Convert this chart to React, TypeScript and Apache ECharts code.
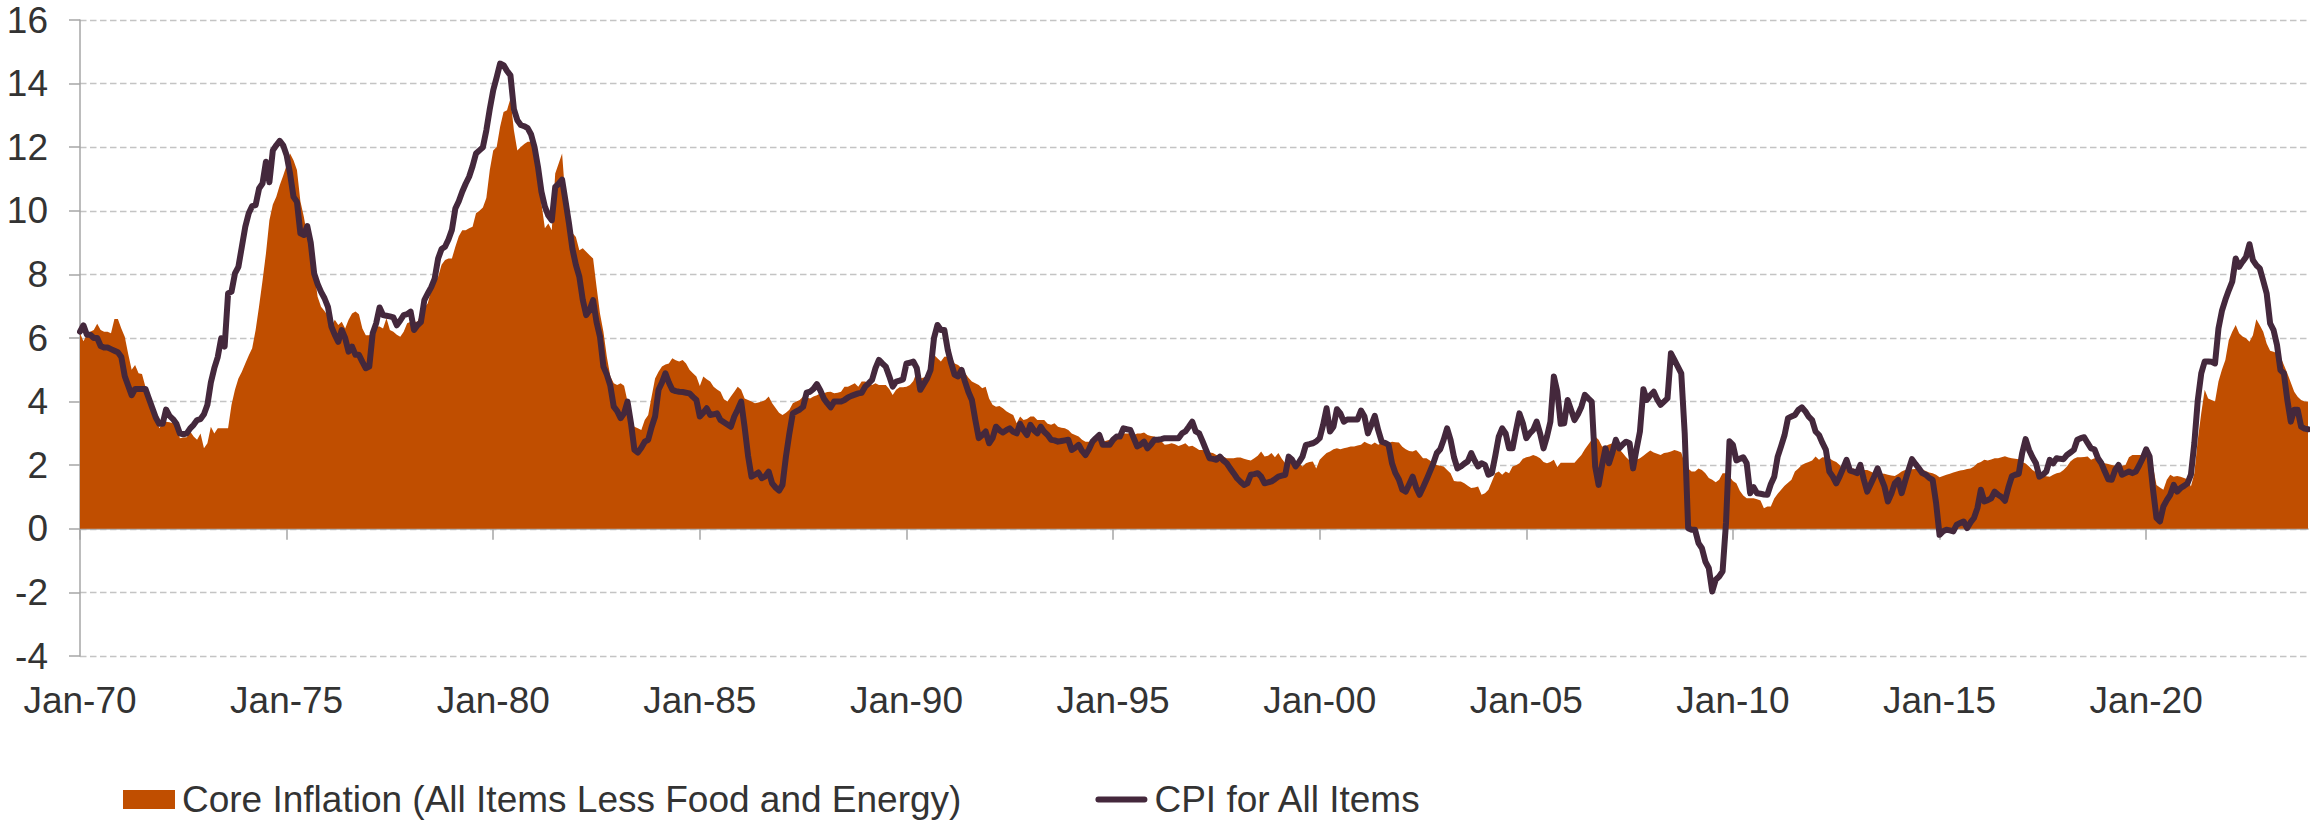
import React, { useEffect, useRef } from "react";
import * as echarts from "echarts";

// ---------- categories & labels ----------
const MONTHS = ["Jan", "Feb", "Mar", "Apr", "May", "Jun", "Jul", "Aug", "Sep", "Oct", "Nov", "Dec"];
const FIRST_YEAR = 1970;
const LAST_YEAR = 2023;
const TICK_LABELS = ["Jan-70", "Jan-75", "Jan-80", "Jan-85", "Jan-90", "Jan-95", "Jan-00", "Jan-05", "Jan-10", "Jan-15", "Jan-20"];

const CORE_NAME = "Core Inflation (All Items Less Food and Energy)";
const CPI_NAME = "CPI for All Items";

// ---------- CPI for All Items, YoY %, monthly (one row per year) ----------
const CPI_1970S = [
  6.2, 6.4, 6.1, 6.1, 6.0, 6.0, 5.75, 5.7, 5.7, 5.65, 5.6, 5.55,
  5.4, 4.8, 4.5, 4.2, 4.4, 4.4, 4.4, 4.4, 4.1, 3.8, 3.5, 3.3,
  3.3, 3.75, 3.55, 3.45, 3.3, 3.0, 2.97, 3.0, 3.16, 3.27, 3.42, 3.45,
  3.6, 3.9, 4.6, 5.05, 5.4, 5.99, 5.73, 7.4, 7.46, 8.03, 8.24, 8.87,
  9.5, 9.92, 10.15, 10.18, 10.7, 10.86, 11.54, 10.9, 11.9, 12.06, 12.2, 12.06,
  11.75, 11.17, 10.44, 10.28, 9.29, 9.24, 9.52, 9.0, 8.03, 7.7, 7.45, 7.25,
  6.98, 6.36, 6.1, 5.88, 6.25, 6.0, 5.57, 5.73, 5.47, 5.47, 5.25, 5.05,
  5.1, 6.15, 6.46, 6.96, 6.72, 6.7, 6.68, 6.65, 6.4, 6.55, 6.72, 6.75,
  6.83, 6.25, 6.4, 6.5, 7.19, 7.4, 7.6, 7.87, 8.5, 8.8, 8.87, 9.1,
  9.4, 10.07, 10.3, 10.6, 10.85, 11.07, 11.4, 11.8, 11.9, 12.0, 12.53, 13.2,
];
const CPI_1980S = [
  13.79, 14.2, 14.63, 14.58, 14.4, 14.26, 13.2, 12.85, 12.7, 12.66, 12.6, 12.4,
  12.0, 11.38, 10.6, 10.13, 9.85, 9.7, 10.75, 10.85, 10.98, 10.3, 9.6, 8.8,
  8.3, 7.93, 7.2, 6.72, 6.88, 7.19, 6.5, 6.04, 5.1, 4.85, 4.5, 3.84,
  3.7, 3.48, 3.63, 4.0, 3.32, 2.48, 2.4, 2.55, 2.74, 2.8, 3.2, 3.53,
  4.37, 4.6, 4.89, 4.6, 4.37, 4.33, 4.31, 4.3, 4.28, 4.26, 4.15, 4.05,
  3.53, 3.65, 3.79, 3.58, 3.6, 3.63, 3.42, 3.35, 3.28, 3.21, 3.53, 3.75,
  4.0, 3.2, 2.3, 1.64, 1.7, 1.77, 1.59, 1.65, 1.8, 1.43, 1.3, 1.2,
  1.38, 2.27, 3.0, 3.63, 3.69, 3.75, 3.84, 4.28, 4.31, 4.4, 4.55, 4.35,
  4.1, 3.95, 3.82, 4.0, 4.0, 4.0, 4.05, 4.13, 4.18, 4.22, 4.26, 4.28,
  4.47, 4.57, 4.68, 5.05, 5.31, 5.2, 5.1, 4.8, 4.47, 4.63, 4.66, 4.7,
];
const CPI_1990S = [
  5.2, 5.22, 5.26, 5.05, 4.37, 4.55, 4.73, 5.0, 6.0, 6.41, 6.25, 6.25,
  5.62, 5.2, 4.84, 4.79, 5.0, 4.63, 4.3, 4.05, 3.42, 2.85, 2.95, 3.06,
  2.69, 2.85, 3.21, 3.1, 3.03, 3.1, 3.16, 3.05, 3.0, 3.3, 3.1, 2.95,
  3.27, 3.1, 3.0, 3.21, 3.05, 2.95, 2.8, 2.78, 2.74, 2.76, 2.78, 2.8,
  2.48, 2.55, 2.64, 2.45, 2.32, 2.5, 2.74, 2.85, 2.95, 2.64, 2.64, 2.64,
  2.8, 2.9, 2.9, 3.16, 3.13, 3.11, 2.85, 2.59, 2.65, 2.74, 2.53, 2.65,
  2.8, 2.8, 2.82, 2.85, 2.85, 2.85, 2.85, 2.85, 3.0, 3.06, 3.21, 3.37,
  3.06, 3.0, 2.75, 2.48, 2.22, 2.2, 2.17, 2.27, 2.15, 2.06, 1.9, 1.75,
  1.59, 1.48, 1.38, 1.43, 1.7, 1.72, 1.75, 1.64, 1.43, 1.46, 1.49, 1.56,
  1.64, 1.67, 1.7, 2.27, 2.17, 1.96, 2.1, 2.27, 2.64, 2.66, 2.69, 2.75,
];
const CPI_2000S = [
  2.85, 3.27, 3.79, 3.06, 3.21, 3.76, 3.63, 3.37, 3.44, 3.44, 3.44, 3.44,
  3.72, 3.53, 3.0, 3.27, 3.55, 3.1, 2.74, 2.7, 2.64, 2.06, 1.75, 1.55,
  1.23, 1.17, 1.4, 1.64, 1.3, 1.07, 1.3, 1.54, 1.8, 2.06, 2.38, 2.5,
  2.8, 3.16, 2.8, 2.25, 1.9, 1.96, 2.05, 2.12, 2.38, 2.15, 1.96, 2.06,
  2.01, 1.7, 1.75, 2.3, 2.9, 3.16, 3.0, 2.53, 2.53, 3.1, 3.63, 3.32,
  2.85, 3.0, 3.11, 3.37, 3.0, 2.53, 2.9, 3.37, 4.79, 4.31, 3.3, 3.32,
  4.05, 3.74, 3.42, 3.6, 3.84, 4.21, 4.1, 4.0, 1.96, 1.38, 2.0, 2.53,
  2.06, 2.4, 2.8, 2.53, 2.65, 2.74, 2.69, 1.9, 2.5, 3.06, 4.39, 4.05,
  4.2, 4.31, 4.07, 3.9, 4.0, 4.1, 5.52, 5.31, 5.1, 4.89, 3.0, 0.02,
  -0.03, -0.03, -0.45, -0.61, -1.03, -1.24, -1.97, -1.6, -1.5, -1.34, 0.2, 2.75,
];
const CPI_2010S = [
  2.64, 2.15, 2.2, 2.25, 2.06, 1.12, 1.31, 1.12, 1.1, 1.08, 1.07, 1.4,
  1.64, 2.27, 2.6, 2.95, 3.48, 3.53, 3.58, 3.74, 3.82, 3.7, 3.53, 3.42,
  3.06, 2.95, 2.7, 2.48, 1.8, 1.64, 1.43, 1.65, 1.9, 2.17, 1.83, 1.8,
  1.75, 2.01, 1.55, 1.17, 1.4, 1.64, 1.9, 1.6, 1.33, 0.86, 1.1, 1.43,
  1.54, 1.12, 1.5, 1.85, 2.19, 2.04, 1.9, 1.75, 1.7, 1.6, 1.54, 0.81,
  -0.19, -0.08, -0.03, -0.05, -0.08, 0.13, 0.18, 0.23, 0.02, 0.2, 0.34, 0.65,
  1.23, 0.86, 0.9, 0.96, 1.17, 1.07, 1.0, 0.88, 1.3, 1.65, 1.7, 1.73,
  2.38, 2.82, 2.48, 2.25, 2.06, 1.64, 1.7, 1.8, 2.17, 2.06, 2.22, 2.2,
  2.19, 2.32, 2.4, 2.48, 2.8, 2.85, 2.88, 2.7, 2.53, 2.5, 2.22, 2.06,
  1.8, 1.56, 1.54, 1.85, 2.01, 1.7, 1.75, 1.8, 1.75, 1.8, 2.0, 2.22,
];
const CPI_2020S = [
  2.5, 2.27, 1.23, 0.34, 0.23, 0.7, 0.9, 1.07, 1.38, 1.17, 1.28, 1.35,
  1.43, 1.7, 2.7, 4.05, 4.89, 5.26, 5.26, 5.25, 5.2, 6.3, 6.85, 7.2,
  7.5, 7.77, 8.5, 8.24, 8.4, 8.55, 8.95, 8.45, 8.29, 8.19, 7.8, 7.4,
  6.46, 6.25, 5.78, 4.99, 4.89, 4.05, 3.37, 3.74, 3.74, 3.21, 3.15, 3.13,
];

// ---------- Core inflation (less food & energy), YoY %, monthly ----------
const CORE_1970S = [
  6.15, 5.9, 6.1, 6.2, 6.25, 6.45, 6.25, 6.2, 6.2, 6.15, 6.6, 6.6,
  6.3, 6.04, 5.5, 5.0, 5.15, 4.89, 4.87, 4.47, 4.26, 4.0, 3.6, 3.16,
  3.3, 3.37, 3.35, 3.32, 3.27, 2.85, 2.87, 2.88, 3.06, 2.9, 2.8, 3.0,
  2.53, 2.69, 3.21, 3.0, 3.16, 3.16, 3.16, 3.16, 3.9, 4.37, 4.73, 4.94,
  5.2, 5.45, 5.68, 6.25, 7.0, 7.8, 8.66, 9.7, 10.2, 10.44, 10.8, 11.1,
  11.43, 11.8, 11.59, 11.28, 10.3, 9.81, 9.2, 8.87, 8.14, 7.3, 6.98, 6.85,
  6.7, 6.36, 6.57, 6.41, 6.51, 6.3, 6.57, 6.77, 6.83, 6.75, 6.3, 6.09,
  6.09, 6.2, 6.36, 6.36, 6.3, 6.62, 6.25, 6.2, 6.1, 6.04, 6.2, 6.46,
  6.51, 6.51, 6.51, 6.77, 6.95, 7.09, 7.51, 7.75, 7.93, 8.3, 8.45, 8.5,
  8.5, 8.87, 9.2, 9.39, 9.39, 9.45, 9.5, 9.92, 10.0, 10.1, 10.4, 11.28,
];
const CORE_1980S = [
  11.9, 12.01, 12.64, 13.11, 13.16, 13.53, 12.53, 11.9, 12.01, 12.1, 12.17, 12.17,
  11.8, 11.07, 10.23, 9.45, 9.6, 9.39, 11.17, 11.49, 11.8, 10.33, 9.7, 9.3,
  9.18, 8.76, 8.82, 8.71, 8.6, 8.5, 7.61, 6.77, 6.2, 5.4, 4.8, 4.58,
  4.52, 4.58, 4.5, 4.0, 3.53, 3.21, 3.16, 3.11, 3.42, 3.58, 4.16, 4.73,
  4.94, 5.1, 5.17, 5.2, 5.36, 5.3, 5.26, 5.31, 5.2, 5.0, 4.89, 4.79,
  4.49, 4.79, 4.7, 4.63, 4.47, 4.38, 4.31, 4.07, 4.0, 4.16, 4.31, 4.47,
  4.37, 4.1, 4.05, 4.0, 3.95, 3.97, 4.0, 4.05, 4.16, 3.95, 3.8, 3.65,
  3.58, 3.65, 3.74, 3.95, 4.0, 4.05, 4.16, 4.13, 4.1, 4.16, 4.2, 4.26,
  4.26, 4.3, 4.31, 4.26, 4.28, 4.31, 4.47, 4.47, 4.52, 4.58, 4.47, 4.63,
  4.63, 4.58, 4.52, 4.58, 4.52, 4.52, 4.52, 4.4, 4.21, 4.37, 4.45, 4.45,
];
const CORE_1990S = [
  4.47, 4.52, 4.65, 4.94, 4.73, 4.76, 4.79, 5.1, 5.47, 5.36, 5.26, 5.41,
  5.42, 5.43, 5.2, 5.15, 5.05, 4.9, 4.75, 4.63, 4.58, 4.52, 4.42, 4.47,
  4.1, 3.9, 3.84, 3.86, 3.79, 3.7, 3.63, 3.58, 3.32, 3.53, 3.42, 3.45,
  3.53, 3.53, 3.42, 3.42, 3.42, 3.3, 3.27, 3.32, 3.21, 3.18, 3.16, 3.11,
  3.0, 2.95, 2.9, 2.8, 2.74, 2.74, 2.77, 2.8, 2.9, 2.74, 2.77, 2.8,
  2.9, 2.92, 2.95, 3.0, 3.0, 3.0, 2.95, 3.0, 3.0, 3.03, 2.95, 2.92,
  2.9, 2.85, 2.75, 2.64, 2.66, 2.69, 2.66, 2.6, 2.64, 2.69, 2.59, 2.61,
  2.55, 2.48, 2.48, 2.43, 2.4, 2.38, 2.32, 2.3, 2.27, 2.22, 2.22, 2.22,
  2.24, 2.24, 2.2, 2.17, 2.15, 2.22, 2.3, 2.43, 2.27, 2.3, 2.38, 2.25,
  2.38, 2.2, 2.06, 2.27, 2.1, 2.01, 2.06, 1.96, 2.06, 2.1, 2.12, 1.9,
];
const CORE_2000S = [
  2.17, 2.28, 2.38, 2.43, 2.5, 2.53, 2.5, 2.53, 2.56, 2.59, 2.59, 2.62,
  2.64, 2.74, 2.68, 2.64, 2.71, 2.64, 2.7, 2.74, 2.69, 2.74, 2.72, 2.71,
  2.58, 2.5, 2.45, 2.43, 2.48, 2.35, 2.22, 2.22, 2.15, 2.06, 2.01, 1.98,
  1.96, 1.85, 1.75, 1.5, 1.49, 1.49, 1.43, 1.35, 1.28, 1.3, 1.33, 1.07,
  1.12, 1.23, 1.49, 1.75, 1.8, 1.7, 1.8, 1.75, 1.96, 2.0, 2.06, 2.2,
  2.25, 2.27, 2.32, 2.28, 2.22, 2.1, 2.06, 2.1, 2.17, 1.94, 2.08, 2.08,
  2.08, 2.08, 2.08, 2.2, 2.32, 2.5, 2.65, 2.8, 2.9, 2.8, 2.59, 2.6,
  2.65, 2.69, 2.59, 2.5, 2.38, 2.25, 2.15, 2.06, 2.17, 2.22, 2.3, 2.38,
  2.46, 2.4, 2.36, 2.32, 2.38, 2.4, 2.43, 2.48, 2.45, 2.4, 2.05, 1.9,
  1.8, 1.8, 1.9, 1.85, 1.75, 1.6, 1.54, 1.46, 1.54, 1.75, 1.75, 1.65,
];
const CORE_2010S = [
  1.5, 1.43, 1.2, 1.05, 0.96, 0.96, 0.96, 0.93, 0.89, 0.65, 0.7, 0.7,
  0.95, 1.1, 1.23, 1.35, 1.45, 1.54, 1.8, 1.9, 2.01, 2.06, 2.1, 2.15,
  2.27, 2.17, 2.25, 2.24, 2.22, 2.15, 2.1, 2.01, 1.85, 1.88, 1.9, 1.9,
  1.85, 1.8, 1.85, 1.85, 1.8, 1.75, 1.75, 1.74, 1.73, 1.7, 1.68, 1.66,
  1.72, 1.8, 1.85, 1.87, 1.87, 1.88, 1.9, 1.87, 1.82, 1.77, 1.75, 1.7,
  1.62, 1.66, 1.7, 1.73, 1.77, 1.8, 1.83, 1.85, 1.88, 1.9, 1.96, 2.06,
  2.1, 2.17, 2.15, 2.18, 2.22, 2.22, 2.25, 2.28, 2.24, 2.22, 2.2, 2.19,
  2.1, 2.05, 1.96, 1.85, 1.78, 1.7, 1.66, 1.65, 1.64, 1.7, 1.75, 1.77,
  1.85, 1.96, 2.12, 2.2, 2.25, 2.25, 2.26, 2.27, 2.17, 2.22, 2.2, 2.12,
  2.06, 2.04, 2.01, 1.98, 1.98, 1.98, 2.01, 2.25, 2.32, 2.32, 2.32, 2.32,
];
const CORE_2020S = [
  2.32, 2.27, 1.96, 1.38, 1.3, 1.23, 1.54, 1.7, 1.64, 1.66, 1.64, 1.6,
  1.56, 1.33, 1.75, 2.8, 3.63, 4.37, 4.1, 4.05, 4.0, 4.63, 5.0, 5.31,
  5.94, 6.2, 6.41, 6.15, 6.05, 5.99, 5.88, 6.09, 6.59, 6.4, 6.2, 5.83,
  5.6, 5.57, 5.52, 5.41, 5.15, 4.89, 4.6, 4.31, 4.15, 4.05, 4.0, 4.0,
];

const CPI = [...CPI_1970S, ...CPI_1980S, ...CPI_1990S, ...CPI_2000S, ...CPI_2010S, ...CPI_2020S];
const CORE = [...CORE_1970S, ...CORE_1980S, ...CORE_1990S, ...CORE_2000S, ...CORE_2010S, ...CORE_2020S];

const CATEGORIES: string[] = [];
for (let y = FIRST_YEAR; y <= LAST_YEAR; y++) {
  for (const m of MONTHS) CATEGORIES.push(`${m}-${String(y % 100).padStart(2, "0")}`);
}

// ---------- styles ----------
const FONT = '"Liberation Sans", Arial, Helvetica, sans-serif';
const TEXT = "#333333";
const AXIS_GRAY = "#a6a6a6";
const GRID_GRAY = "#c4c4c4";
const CORE_COLOR = "#C04E00";
const CPI_COLOR = "#44283C";

export default function App() {
  const ref = useRef<HTMLDivElement>(null);

  useEffect(() => {
    document.body.style.margin = "0";
    if (!ref.current) return;
    const chart = echarts.init(ref.current, undefined, { renderer: "svg" });
    chart.setOption({
      animation: false,
      textStyle: { fontFamily: FONT },
      grid: { left: 80, right: 2, top: 20, bottom: 166, containLabel: false },
      legend: {
        left: 123,
        top: 781,
        padding: 0,
        itemWidth: 52,
        itemHeight: 19,
        itemGap: 134,
        symbolKeepAspect: true,
        selectedMode: false,
        textStyle: { fontSize: 37, color: TEXT, fontFamily: FONT, padding: [0, 0, 0, 2] },
        data: [
          { name: CORE_NAME, icon: "rect", itemStyle: { borderWidth: 0 } },
          {
            name: CPI_NAME,
            icon: "path://M3,0L49,0A3,3,0,0,1,49,6L3,6A3,3,0,0,1,3,0Z",
            itemStyle: { borderWidth: 0, color: CPI_COLOR },
          },
        ],
      },
      xAxis: [
        {
          type: "category",
          data: CATEGORIES,
          boundaryGap: false,
          position: "bottom",
          axisLine: { show: false, onZero: false },
          axisTick: { show: false },
          axisLabel: {
            interval: 59,
            fontSize: 37,
            color: TEXT,
            margin: 26,
            fontFamily: FONT,
            formatter: (v: string) => (TICK_LABELS.includes(v) ? v : ""),
          },
          splitLine: { show: false },
        },
        {
          type: "category",
          data: CATEGORIES,
          boundaryGap: false,
          position: "bottom",
          axisLine: { show: true, onZero: true, lineStyle: { color: AXIS_GRAY, width: 1.5 } },
          axisTick: { show: true, interval: 59, length: 11, lineStyle: { color: AXIS_GRAY, width: 1.5 } },
          axisLabel: { show: false },
          splitLine: { show: false },
        },
      ],
      yAxis: {
        type: "value",
        min: -4,
        max: 16,
        interval: 2,
        axisLine: { show: true, lineStyle: { color: AXIS_GRAY, width: 1.5 } },
        axisTick: { show: true, length: 11, lineStyle: { color: AXIS_GRAY, width: 1.5 } },
        axisLabel: { fontSize: 37, color: TEXT, margin: 32, fontFamily: FONT },
        splitLine: { show: true, lineStyle: { color: GRID_GRAY, width: 1.3, type: [6.5, 3.5] } },
      },
      series: [
        {
          name: CORE_NAME,
          type: "line",
          data: CORE,
          xAxisIndex: 0,
          symbol: "none",
          showSymbol: false,
          color: CORE_COLOR,
          lineStyle: { width: 0, color: CORE_COLOR },
          areaStyle: { color: CORE_COLOR, opacity: 1 },
          z: 2,
          silent: true,
        },
        {
          name: CPI_NAME,
          type: "line",
          data: CPI,
          xAxisIndex: 0,
          symbol: "none",
          showSymbol: false,
          color: CPI_COLOR,
          lineStyle: { width: 6, color: CPI_COLOR, cap: "round", join: "round" },
          z: 3,
          silent: true,
        },
      ],
    });
    return () => chart.dispose();
  }, []);

  return <div ref={ref} style={{ width: 2310, height: 822 }} />;
}
